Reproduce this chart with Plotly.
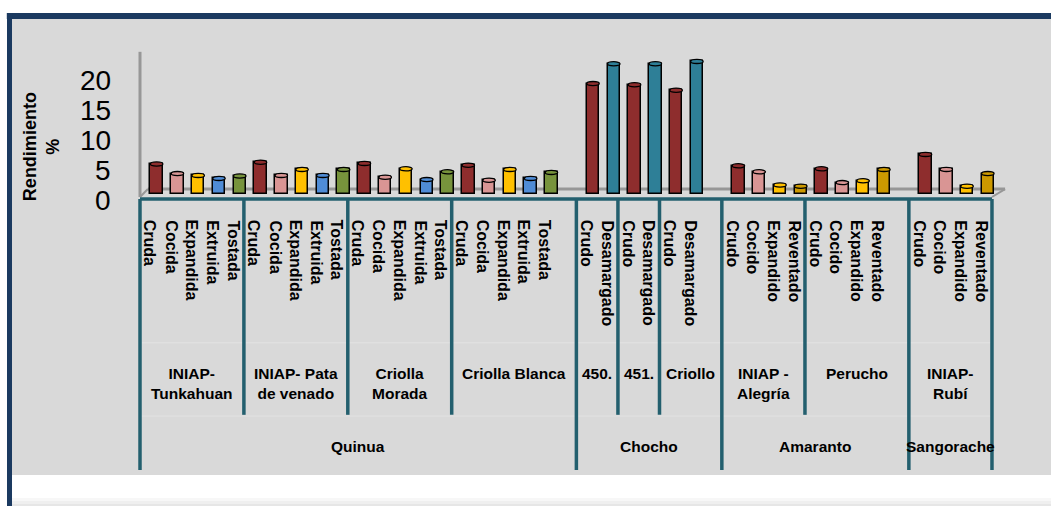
import plotly.graph_objects as go

# ---------------- data ----------------
crops = ["Quinua", "Chocho", "Amaranto", "Sangorache"]

quinua_process = ["Cruda", "Cocida", "Expandida", "Extruida", "Tostada"]
chocho_process = ["Crudo", "Desamargado"]
amaranto_process = ["Crudo", "Cocido", "Expandido", "Reventado"]

quinua_tunkahuan = [5.0, 3.4, 3.1, 2.6, 3.0]
quinua_pata_venado = [5.3, 3.1, 4.1, 3.1, 4.1]
quinua_criolla_morada = [5.1, 2.8, 4.2, 2.4, 3.7]
quinua_criolla_blanca = [4.8, 2.3, 4.1, 2.6, 3.6]
chocho_450 = [18.4, 21.7]
chocho_451 = [18.2, 21.7]
chocho_criollo = [17.3, 22.1]
amaranto_alegria = [4.7, 3.7, 1.5, 1.3]
amaranto_perucho = [4.2, 1.9, 2.2, 4.1]
sangorache_rubi = [6.6, 4.1, 1.3, 3.4]

varieties = ["INIAP-<br>Tunkahuan", "INIAP- Pata<br>de venado", "Criolla<br>Morada",
             "Criolla Blanca", "450.", "451.", "Criollo", "INIAP -<br>Alegría",
             "Perucho", "INIAP-<br>Rubí"]
variety_crop = ["Quinua"] * 4 + ["Chocho"] * 3 + ["Amaranto"] * 2 + ["Sangorache"]
variety_process = [quinua_process] * 4 + [chocho_process] * 3 + [amaranto_process] * 3
variety_values = [quinua_tunkahuan, quinua_pata_venado, quinua_criolla_morada,
                  quinua_criolla_blanca, chocho_450, chocho_451, chocho_criollo,
                  amaranto_alegria, amaranto_perucho, sangorache_rubi]
variety_blank_slots = [0, 0, 0, 1, 0, 0, 1, 0, 1, 0]

y_ticks = [0, 5, 10, 15, 20]

process_colors = {
    "Cruda": "#8E2D2D", "Crudo": "#8E2D2D",
    "Cocida": "#D99594", "Cocido": "#D99594",
    "Expandida": "#FFC000", "Expandido": "#FFC000",
    "Extruida": "#4F8CD6",
    "Tostada": "#77933C",
    "Desamargado": "#2E7F97",
    "Reventado": "#CC9900",
}

# ---------------- build slots ----------------
bar_x, bar_y, bar_c, lab_x, lab_t = [], [], [], [], []
var_start, var_end = [], []
slot = 0
for name, procs, vals, blanks in zip(varieties, variety_process, variety_values, variety_blank_slots):
    var_start.append(slot)
    for p, v in zip(procs, vals):
        bar_x.append(slot)
        bar_y.append(v)
        bar_c.append(process_colors[p])
        lab_x.append(slot)
        lab_t.append(p)
        slot += 1
    slot += blanks
    var_end.append(slot)
n_slots = slot

crop_start, crop_end = {}, {}
for c, s, e in zip(variety_crop, var_start, var_end):
    crop_start.setdefault(c, s)
    crop_end[c] = e

TEAL = "#235F6E"
GRAY = "#979797"
BAR_W = 0.6
FONT = "Arial, Liberation Sans, sans-serif"

fig = go.Figure()
fig.add_trace(go.Bar(
    x=bar_x, y=bar_y, width=BAR_W, offset=0,
    marker=dict(color=bar_c, line=dict(color="black", width=1.5)),
    hoverinfo="skip", showlegend=False,
))

shapes = []
# floor (3D look) and vertical axis
y_floor_back = 0.83
y_front = -0.5
x_left = -0.5
x_right = n_slots - 0.5
shapes.append(dict(type="line", xref="x", yref="y", x0=x_left + 0.38, x1=x_right + 0.63,
                   y0=y_floor_back, y1=y_floor_back, line=dict(color=GRAY, width=3), layer="below"))
shapes.append(dict(type="line", xref="x", yref="y", x0=x_left, x1=x_left + 0.38,
                   y0=y_front, y1=y_floor_back, line=dict(color=GRAY, width=2), layer="below"))
shapes.append(dict(type="line", xref="x", yref="y", x0=x_right, x1=x_right + 0.63,
                   y0=y_front, y1=y_floor_back, line=dict(color=GRAY, width=2), layer="below"))
shapes.append(dict(type="line", xref="x", yref="y", x0=x_left, x1=x_left,
                   y0=y_front, y1=23.7, line=dict(color=GRAY, width=3), layer="below"))

# cylinder tops
for x, v, c in zip(bar_x, bar_y, bar_c):
    shapes.append(dict(type="circle", xref="x", yref="y", x0=x, x1=x + BAR_W,
                       y0=v - 0.35, y1=v + 0.35, fillcolor=c,
                       line=dict(color="black", width=1.3), layer="above"))

# category table lines
y_axis_line = -0.85
y_var_bottom = -36.8
y_crop_bottom = -46.0
for yy in (-24.8, -37.0):
    shapes.append(dict(type="line", xref="x", yref="y", x0=x_left, x1=x_right,
                       y0=yy, y1=yy, line=dict(color="#E3E3E3", width=1), layer="below"))
shapes.append(dict(type="line", xref="x", yref="y", x0=x_left, x1=x_right,
                   y0=y_axis_line, y1=y_axis_line, line=dict(color=TEAL, width=3.5)))
crop_bounds = set(crop_start.values()) | set(crop_end.values())
var_bounds = set(var_start) | set(var_end)
for b in sorted(var_bounds):
    bottom = y_crop_bottom if b in crop_bounds else y_var_bottom
    shapes.append(dict(type="line", xref="x", yref="y", x0=b - 0.5, x1=b - 0.5,
                       y0=y_axis_line, y1=bottom, line=dict(color=TEAL, width=3.5)))

# soft shading at the bottom of the page
for (ya, yb, col) in [(-0.0504, -0.057, "#F7F7F7"), (-0.057, -0.0636, "#EFEFEF"),
                      (-0.0636, -0.07, "#E6E6E6")]:
    shapes.append(dict(type="rect", xref="paper", yref="paper", x0=-0.002, x1=1.0,
                       y0=yb, y1=ya, fillcolor=col, line=dict(width=0), layer="below"))

# frame (navy border top & left)
NAVY = "#1B3A60"
shapes.append(dict(type="line", xref="paper", yref="paper", x0=-0.005, x1=1.0,
                   y0=1.0066, y1=1.0066, line=dict(color=NAVY, width=6)))
shapes.append(dict(type="line", xref="paper", yref="paper", x0=-0.0024, x1=-0.0024,
                   y0=1.013, y1=-0.07, line=dict(color=NAVY, width=5)))

annotations = []
for x, t in zip(lab_x, lab_t):
    annotations.append(dict(x=x, y=-4.0, xref="x", yref="y", text=t, textangle=90,
                            showarrow=False, xanchor="center", yanchor="top",
                            font=dict(family=FONT, size=16, color="black", weight="bold")))
for name, s, e in zip(varieties, var_start, var_end):
    annotations.append(dict(x=(s + e - 1) / 2, y=-28.2, xref="x", yref="y", text=name,
                            showarrow=False, xanchor="center", yanchor="top", align="center",
                            font=dict(family=FONT, size=15.5, color="black", weight="bold")))
for c in crops:
    annotations.append(dict(x=(crop_start[c] + crop_end[c] - 1) / 2, y=-42.0, xref="x", yref="y",
                            text=c, showarrow=False, xanchor="center", yanchor="middle",
                            font=dict(family=FONT, size=15.5, color="black", weight="bold")))
for v in y_ticks:
    annotations.append(dict(x=-1.8, y=v, xref="x", yref="y", text=str(v), showarrow=False,
                            xanchor="right", yanchor="middle", yshift=-6,
                            font=dict(family=FONT, size=28, color="black")))
annotations.append(dict(x=-5.26, y=7.83, xref="x", yref="y", text="Rendimiento<br>%",
                        textangle=-90, showarrow=False, xanchor="center", yanchor="middle",
                        align="center",
                        font=dict(family=FONT, size=18, color="black", weight="bold")))

fig.update_layout(
    width=1051, height=506,
    margin=dict(l=12, r=0, t=19, b=31),
    paper_bgcolor="white", plot_bgcolor="#D9D9D9",
    xaxis=dict(range=[-6.66, 43.34], visible=False, fixedrange=True),
    yaxis=dict(range=[-46.83, 29.17], visible=False, fixedrange=True),
    shapes=shapes, annotations=annotations,
    bargap=0,
)

fig.write_html("out.html", config={"displayModeBar": False},
               post_script="document.body.style.margin='0';document.body.style.overflow='hidden';")
